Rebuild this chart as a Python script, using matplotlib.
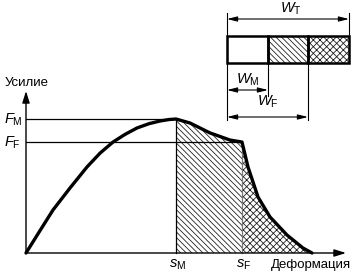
import matplotlib
matplotlib.use("Agg")
import matplotlib.pyplot as plt
import numpy as np

# ---- data (deformation units, force in % of F_M) ----
deformation = [0.0, 1.3, 2.7, 4.4, 6.1, 7.4, 8.7, 9.9, 11.1, 12.3, 13.4, 14.3, 15.0,
               16.4, 18.4, 20.4, 21.6, 22.2, 23.2, 24.4, 26.1, 27.7, 28.6]
force = [0.0, 15.5, 32.1, 48.5, 64.2, 74.5, 82.8, 88.5, 93.3, 96.5, 98.5, 99.6, 100.0,
         97.0, 89.6, 84.3, 82.8, 64.2, 41.8, 26.9, 13.4, 3.7, 0.0]
s_M = 15.0
s_F = 21.6
F_M = 100.0
F_F = 82.8

labels_axes = ["Усилие", "Деформация"]
plt.rcParams['mathtext.fontset'] = 'custom'
plt.rcParams['mathtext.it'] = 'Liberation Sans:italic'
plt.rcParams['mathtext.rm'] = 'Liberation Sans'
plt.rcParams['font.family'] = ['Liberation Sans', 'DejaVu Sans']
plt.rcParams['hatch.linewidth'] = 0.6
plt.rcParams['hatch.color'] = '#222222'

HATCH_D = '\\' * 6
HATCH_X = 'x' * 5

W, H = 354, 273
fig = plt.figure(figsize=(W / 100, H / 100), dpi=100)

# chart axes: pixel x = 26 + 10*s ; pixel y = 253 - 1.34*F
ax = fig.add_axes([0, 0, 1, 1])
ax.set_xlim(-2.6, (W - 26) / 10)
ax.set_ylim(-(H - 253) / 1.34, 253 / 1.34)
ax.axis('off')

# overlay in pixel coords for diagram decorations
px = fig.add_axes([0, 0, 1, 1], facecolor='none')
px.set_xlim(0, W)
px.set_ylim(H, 0)
px.axis('off')

d = np.array(deformation)
f = np.array(force)

# hatched regions
mask1 = (d >= s_M) & (d <= s_F)
ax.fill_between(d[mask1], 0, f[mask1], facecolor='none', edgecolor='#222222',
                hatch=HATCH_D, linewidth=0)
mask2 = d >= s_F
ax.fill_between(d[mask2], 0, f[mask2], facecolor='none', edgecolor='#222222',
                hatch=HATCH_X, linewidth=0)

# guide lines
ax.plot([0, s_M], [F_M, F_M], color='black', lw=0.9)
ax.plot([0, s_F], [F_F, F_F], color='black', lw=0.9)
ax.plot([s_M, s_M], [0, F_M], color='black', lw=0.9)
ax.plot([s_F, s_F], [0, F_F], color='#777777', lw=0.9)

# curve
ax.plot(d, f, color='black', lw=2.4, solid_joinstyle='round', solid_capstyle='round')

# axes with arrows (pixel coords)
px.annotate('', xy=(26, 91), xytext=(26, 253.5),
            arrowprops=dict(arrowstyle='-|>,head_length=0.7,head_width=0.22',
                            color='black', lw=1.0, shrinkA=0, shrinkB=0))
px.annotate('', xy=(346, 253), xytext=(25.5, 253),
            arrowprops=dict(arrowstyle='-|>,head_length=0.7,head_width=0.22',
                            color='black', lw=1.0, shrinkA=0, shrinkB=0))

# axis texts
px.text(5, 83, labels_axes[0], fontsize=9.5, ha='left', va='center')
px.text(271, 265, labels_axes[1], fontsize=9.5, ha='left', va='center')
px.text(4, 120, r'$F_{\mathrm{M}}$', fontsize=10.5, ha='left', va='center')
px.text(4, 143, r'$F_{\mathrm{F}}$', fontsize=10.5, ha='left', va='center')
px.text(178, 265, r'$s_{\mathrm{M}}$', fontsize=10.5, ha='center', va='center')
px.text(244, 265, r'$s_{\mathrm{F}}$', fontsize=10.5, ha='center', va='center')

# top box diagram
bx0, bx1, bx2, bx3 = 227, 268, 308, 349
by0, by1 = 36, 63
px.add_patch(plt.Rectangle((bx1, by0), bx2 - bx1, by1 - by0, facecolor='none',
                           edgecolor='#222222', hatch=HATCH_D, lw=0))
px.add_patch(plt.Rectangle((bx2, by0), bx3 - bx2, by1 - by0, facecolor='none',
                           edgecolor='#222222', hatch=HATCH_X, lw=0))
for x0, x1 in [(bx0, bx1), (bx1, bx2), (bx2, bx3)]:
    px.add_patch(plt.Rectangle((x0, by0), x1 - x0, by1 - by0, facecolor='none',
                               edgecolor='black', lw=1.8))

# extension lines
px.plot([bx0, bx0], [13, 120], color='black', lw=0.8)
px.plot([bx3, bx3], [13, by0], color='black', lw=0.8)
px.plot([bx1, bx1], [by1, 96], color='black', lw=0.8)
px.plot([bx2, bx2], [by1, 120], color='black', lw=0.8)

arrow_kw = dict(arrowstyle='<|-|>,head_length=0.6,head_width=0.15', color='black',
                lw=0.8, shrinkA=0, shrinkB=0)
px.annotate('', xy=(bx0, 19), xytext=(bx3, 19), arrowprops=arrow_kw)
px.annotate('', xy=(bx0, 90), xytext=(bx1, 90), arrowprops=arrow_kw)
px.annotate('', xy=(bx0, 117), xytext=(bx2, 117), arrowprops=arrow_kw)

px.text(291, 9, r'$W_{\mathrm{T}}$', fontsize=10.5, ha='center', va='center')
px.text(248, 80, r'$W_{\mathrm{M}}$', fontsize=10.5, ha='center', va='center')
px.text(268, 102, r'$W_{\mathrm{F}}$', fontsize=10.5, ha='center', va='center')

fig.savefig('out.png', dpi=100)
